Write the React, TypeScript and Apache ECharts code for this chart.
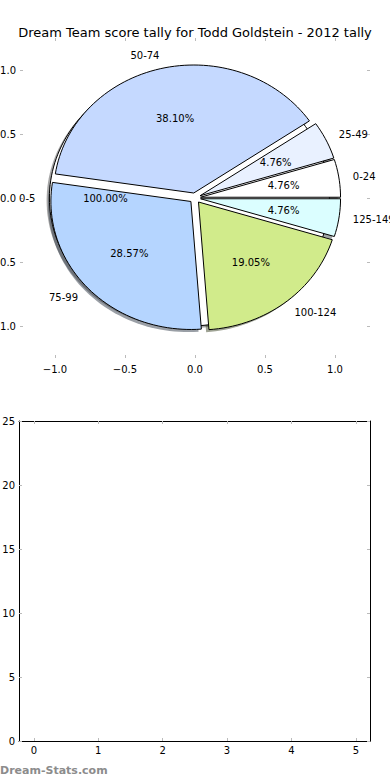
import React, { useEffect, useRef } from "react";
import * as echarts from "echarts";

const titleText = "Dream Team score tally for Todd Goldstein - 2012 tally";
const sliceLabels = ["0-24", "25-49", "50-74", "75-99", "100-124", "125-149"];
const sliceCounts = [1, 1, 8, 6, 4, 1];
const sliceColors = ["#ffffff", "#e9f1ff", "#c5d9ff", "#b5d5ff", "#d1eb8b", "#dbfeff"];
const backLabels = ["0-5"];
const backCounts = [1];
const backColors = ["#ffffff"];
const pieTicks = [-1, -0.5, 0, 0.5, 1];
const barXTicks = [0, 1, 2, 3, 4, 5];
const watermark = "Dream-Stats.com";

const EXPLODE = 0.04;
const FONT = "DejaVu Sans";

type Wedge = { start: number; end: number; color: string; label: string; pct: string };

function buildWedges(labels: string[], counts: number[], colors: string[]): Wedge[] {
  const total = counts.reduce((a, b) => a + b, 0);
  let acc = 0;
  return counts.map((c, i) => {
    const start = (acc / total) * 360;
    acc += c;
    const end = (acc / total) * 360;
    return { start, end, color: colors[i], label: labels[i], pct: ((c / total) * 100).toFixed(2) + "%" };
  });
}

const wedges: Wedge[] = [
  ...buildWedges(backLabels, backCounts, backColors),
  ...buildWedges(sliceLabels, sliceCounts, sliceColors),
];

function shadowColor(hex: string) {
  const r = parseInt(hex.slice(1, 3), 16);
  const g = parseInt(hex.slice(3, 5), 16);
  const b = parseInt(hex.slice(5, 7), 16);
  return `rgba(${Math.round(r * 0.3)},${Math.round(g * 0.3)},${Math.round(b * 0.3)},0.5)`;
}

function wedgePoints(api: any, w: Wedge, dx: number, dy: number) {
  const mid = ((w.start + w.end) / 2) * Math.PI / 180;
  const cx = EXPLODE * Math.cos(mid) + dx;
  const cy = EXPLODE * Math.sin(mid) + dy;
  const pts: number[][] = [];
  const full = w.end - w.start >= 359.999;
  if (!full) pts.push(api.coord([cx, cy]));
  const steps = Math.max(8, Math.ceil((w.end - w.start) / 2));
  for (let k = 0; k <= steps; k++) {
    const a = (w.start + ((w.end - w.start) * k) / steps) * Math.PI / 180;
    pts.push(api.coord([cx + Math.cos(a), cy + Math.sin(a)]));
  }
  return pts;
}

const tickStyle = { show: true, inside: true, length: 3, lineStyle: { color: "#bbbbbb", width: 1 } };
const fmtNum = (v: number) => v.toFixed(1).replace("-", "\u2212");

export default function App() {
  const ref = useRef<HTMLDivElement>(null);
  useEffect(() => {
    if (!ref.current) return;
    const chart = echarts.init(ref.current, null, { renderer: "svg" });
    const data = wedges.map(() => [0, 0]);
    chart.setOption({
      animation: false,
      backgroundColor: "#ffffff",
      textStyle: { fontFamily: FONT },
      title: {
        text: titleText,
        left: "center",
        top: 21,
        textStyle: { fontFamily: FONT, fontSize: 13, fontWeight: "normal", color: "#000" },
      },
      graphic: [
        {
          type: "text",
          left: 0,
          top: 765,
          style: { text: watermark, fill: "#8c8c8c", font: `bold 11px "${FONT}"` },
        },
      ],
      grid: [
        { left: 20, top: 38, width: 350, height: 320, outerBoundsMode: "none", containLabel: false },
        { left: 19, top: 421, width: 351, height: 320, outerBoundsMode: "none", containLabel: false },
      ],
      xAxis: [
        {
          gridIndex: 0, type: "value", min: -1.25, max: 1.25, position: "bottom",
          axisLine: { show: false, onZero: false }, splitLine: { show: false },
          axisTick: { ...tickStyle, customValues: pieTicks },
          axisLabel: { customValues: pieTicks, formatter: fmtNum, fontSize: 10, color: "#000", margin: 6, fontFamily: FONT },
        },
        {
          gridIndex: 0, type: "value", min: -1.25, max: 1.25, position: "top",
          axisLine: { show: false, onZero: false }, splitLine: { show: false },
          axisTick: { ...tickStyle, customValues: pieTicks },
          axisLabel: { show: false },
        },
        {
          gridIndex: 1, type: "value", min: -0.23, max: 5.22, position: "bottom",
          axisLine: { show: true, onZero: false, lineStyle: { color: "#000", width: 1 } }, splitLine: { show: false },
          axisTick: { ...tickStyle, customValues: barXTicks },
          axisLabel: { customValues: barXTicks, formatter: (v: number) => String(v), fontSize: 10, color: "#000", margin: 4, fontFamily: FONT },
        },
        {
          gridIndex: 1, type: "value", min: -0.23, max: 5.22, position: "top",
          axisLine: { show: true, onZero: false, lineStyle: { color: "#000", width: 1 } }, splitLine: { show: false },
          axisTick: { ...tickStyle, customValues: barXTicks },
          axisLabel: { show: false },
        },
      ],
      yAxis: [
        {
          gridIndex: 0, type: "value", min: -1.25, max: 1.25, position: "left",
          axisLine: { show: false, onZero: false }, splitLine: { show: false },
          axisTick: { ...tickStyle, customValues: pieTicks },
          axisLabel: { customValues: pieTicks, formatter: fmtNum, fontSize: 10, color: "#000", margin: 4, fontFamily: FONT },
        },
        {
          gridIndex: 0, type: "value", min: -1.25, max: 1.25, position: "right",
          axisLine: { show: false, onZero: false }, splitLine: { show: false },
          axisTick: { ...tickStyle, customValues: pieTicks },
          axisLabel: { show: false },
        },
        {
          gridIndex: 1, type: "value", min: 0, max: 25, interval: 5, position: "left",
          axisLine: { show: true, onZero: false, lineStyle: { color: "#000", width: 1 } }, splitLine: { show: false },
          axisTick: tickStyle,
          axisLabel: { fontSize: 10, color: "#000", margin: 4, fontFamily: FONT },
        },
        {
          gridIndex: 1, type: "value", min: 0, max: 25, interval: 5, position: "right",
          axisLine: { show: true, onZero: false, lineStyle: { color: "#000", width: 1 } }, splitLine: { show: false },
          axisTick: tickStyle,
          axisLabel: { show: false },
        },
      ],
      series: [
        {
          type: "custom", xAxisIndex: 0, yAxisIndex: 0, z: 1, clip: false, silent: true, data,
          renderItem: (params: any, api: any) => {
            const w = wedges[params.dataIndex];
            return {
              type: "polygon",
              shape: { points: wedgePoints(api, w, -0.02, -0.02) },
              style: { fill: shadowColor(w.color), stroke: "none" },
            };
          },
        },
        {
          type: "custom", xAxisIndex: 0, yAxisIndex: 0, z: 2, clip: false, silent: true, data,
          renderItem: (params: any, api: any) => {
            const w = wedges[params.dataIndex];
            return {
              type: "polygon",
              shape: { points: wedgePoints(api, w, 0, 0) },
              style: { fill: w.color, stroke: "#000", lineWidth: 1, lineJoin: "round" },
            };
          },
        },
        {
          type: "custom", xAxisIndex: 0, yAxisIndex: 0, z: 3, clip: false, silent: true, data,
          renderItem: (params: any, api: any) => {
            const w = wedges[params.dataIndex];
            const mid = ((w.start + w.end) / 2) * Math.PI / 180;
            const ox = EXPLODE * Math.cos(mid);
            const oy = EXPLODE * Math.sin(mid);
            const lx = 1.1 * Math.cos(mid) + ox;
            const ly = 1.1 * Math.sin(mid) + oy;
            const px = 0.6 * Math.cos(mid) + ox;
            const py = 0.6 * Math.sin(mid) + oy;
            const lp = api.coord([lx, ly]);
            const pp = api.coord([px, py]);
            return {
              type: "group",
              children: [
                {
                  type: "text", x: lp[0], y: lp[1],
                  style: { text: w.label, fill: "#000", fontSize: 10, fontFamily: FONT, align: lx > 0 ? "left" : "right", verticalAlign: "middle" },
                },
                {
                  type: "text", x: pp[0], y: pp[1],
                  style: { text: w.pct, fill: "#000", fontSize: 10, fontFamily: FONT, align: "center", verticalAlign: "middle" },
                },
              ],
            };
          },
        },
        { type: "line", xAxisIndex: 2, yAxisIndex: 2, data: [] },
      ],
    });
    return () => chart.dispose();
  }, []);
  return <div ref={ref} style={{ width: 390, height: 780, position: "absolute", left: 0, top: 0 }} />;
}
